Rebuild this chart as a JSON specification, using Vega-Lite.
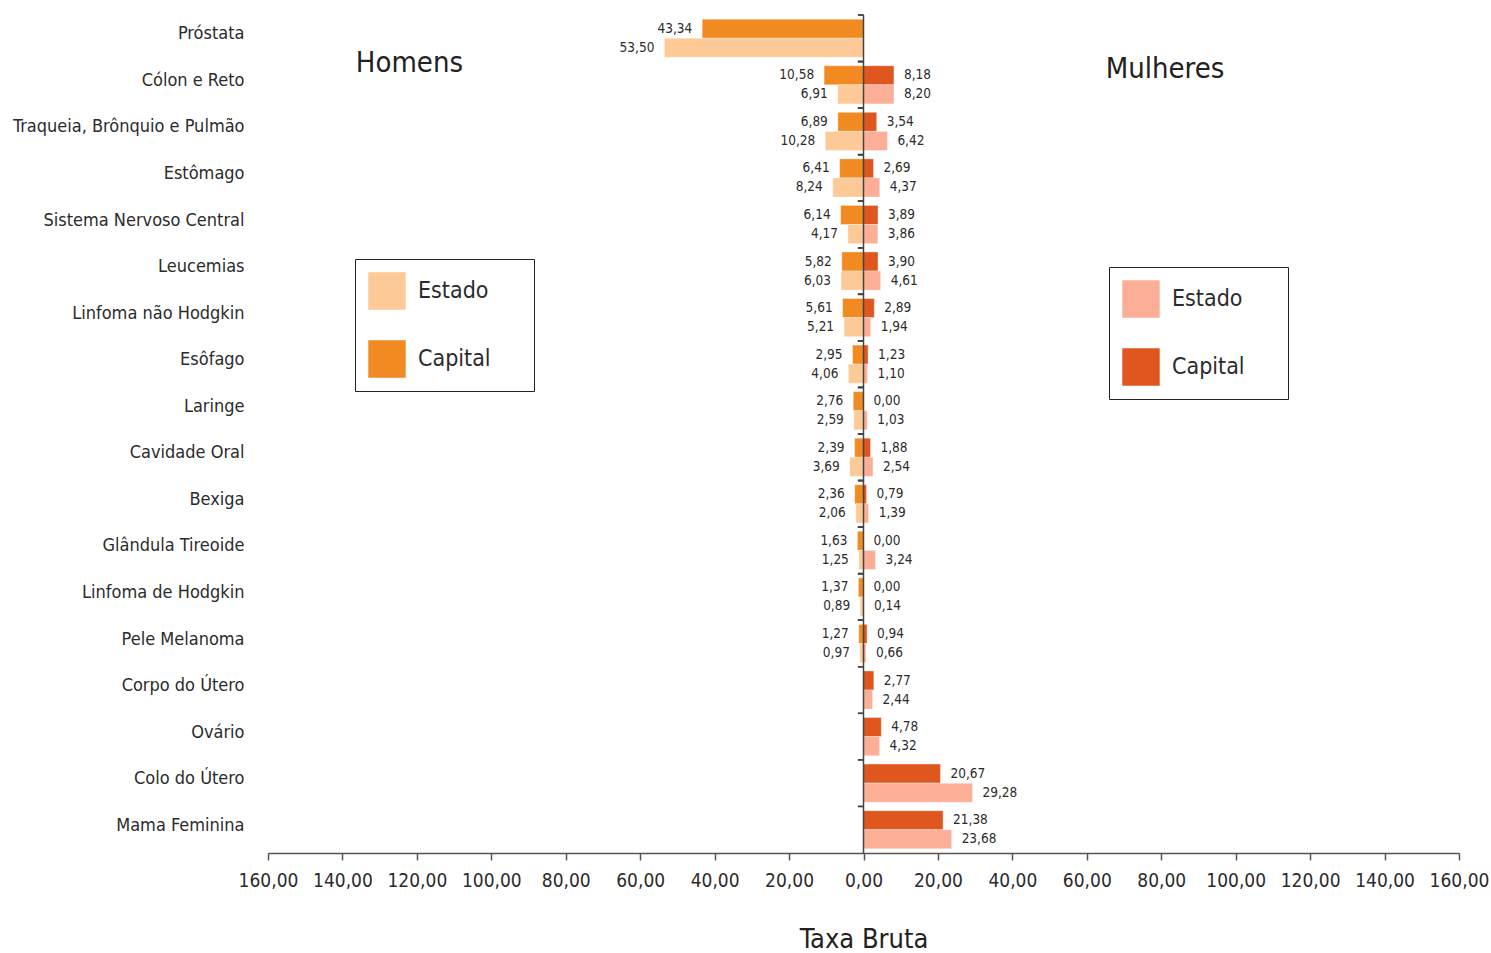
{
  "$schema": "https://vega.github.io/schema/vega-lite/v6.json",
  "width": 1191,
  "height": 838,
  "padding": {"left": 12, "top": 14, "right": 0, "bottom": 0},
  "background": "white",
  "config": {
    "view": {"stroke": null},
    "font": "DejaVu Sans Condensed, sans-serif"
  },
  "data": {
    "values": [
      {"cancer": "Próstata", "sexo": "Homens", "tipo": "Capital", "valor": -43.34},
      {"cancer": "Próstata", "sexo": "Homens", "tipo": "Estado", "valor": -53.50},
      {"cancer": "Cólon e Reto", "sexo": "Homens", "tipo": "Capital", "valor": -10.58},
      {"cancer": "Cólon e Reto", "sexo": "Homens", "tipo": "Estado", "valor": -6.91},
      {"cancer": "Cólon e Reto", "sexo": "Mulheres", "tipo": "Capital", "valor": 8.18},
      {"cancer": "Cólon e Reto", "sexo": "Mulheres", "tipo": "Estado", "valor": 8.20},
      {"cancer": "Traqueia, Brônquio e Pulmão", "sexo": "Homens", "tipo": "Capital", "valor": -6.89},
      {"cancer": "Traqueia, Brônquio e Pulmão", "sexo": "Homens", "tipo": "Estado", "valor": -10.28},
      {"cancer": "Traqueia, Brônquio e Pulmão", "sexo": "Mulheres", "tipo": "Capital", "valor": 3.54},
      {"cancer": "Traqueia, Brônquio e Pulmão", "sexo": "Mulheres", "tipo": "Estado", "valor": 6.42},
      {"cancer": "Estômago", "sexo": "Homens", "tipo": "Capital", "valor": -6.41},
      {"cancer": "Estômago", "sexo": "Homens", "tipo": "Estado", "valor": -8.24},
      {"cancer": "Estômago", "sexo": "Mulheres", "tipo": "Capital", "valor": 2.69},
      {"cancer": "Estômago", "sexo": "Mulheres", "tipo": "Estado", "valor": 4.37},
      {"cancer": "Sistema Nervoso Central", "sexo": "Homens", "tipo": "Capital", "valor": -6.14},
      {"cancer": "Sistema Nervoso Central", "sexo": "Homens", "tipo": "Estado", "valor": -4.17},
      {"cancer": "Sistema Nervoso Central", "sexo": "Mulheres", "tipo": "Capital", "valor": 3.89},
      {"cancer": "Sistema Nervoso Central", "sexo": "Mulheres", "tipo": "Estado", "valor": 3.86},
      {"cancer": "Leucemias", "sexo": "Homens", "tipo": "Capital", "valor": -5.82},
      {"cancer": "Leucemias", "sexo": "Homens", "tipo": "Estado", "valor": -6.03},
      {"cancer": "Leucemias", "sexo": "Mulheres", "tipo": "Capital", "valor": 3.90},
      {"cancer": "Leucemias", "sexo": "Mulheres", "tipo": "Estado", "valor": 4.61},
      {"cancer": "Linfoma não Hodgkin", "sexo": "Homens", "tipo": "Capital", "valor": -5.61},
      {"cancer": "Linfoma não Hodgkin", "sexo": "Homens", "tipo": "Estado", "valor": -5.21},
      {"cancer": "Linfoma não Hodgkin", "sexo": "Mulheres", "tipo": "Capital", "valor": 2.89},
      {"cancer": "Linfoma não Hodgkin", "sexo": "Mulheres", "tipo": "Estado", "valor": 1.94},
      {"cancer": "Esôfago", "sexo": "Homens", "tipo": "Capital", "valor": -2.95},
      {"cancer": "Esôfago", "sexo": "Homens", "tipo": "Estado", "valor": -4.06},
      {"cancer": "Esôfago", "sexo": "Mulheres", "tipo": "Capital", "valor": 1.23},
      {"cancer": "Esôfago", "sexo": "Mulheres", "tipo": "Estado", "valor": 1.10},
      {"cancer": "Laringe", "sexo": "Homens", "tipo": "Capital", "valor": -2.76},
      {"cancer": "Laringe", "sexo": "Homens", "tipo": "Estado", "valor": -2.59},
      {"cancer": "Laringe", "sexo": "Mulheres", "tipo": "Capital", "valor": 0.00},
      {"cancer": "Laringe", "sexo": "Mulheres", "tipo": "Estado", "valor": 1.03},
      {"cancer": "Cavidade Oral", "sexo": "Homens", "tipo": "Capital", "valor": -2.39},
      {"cancer": "Cavidade Oral", "sexo": "Homens", "tipo": "Estado", "valor": -3.69},
      {"cancer": "Cavidade Oral", "sexo": "Mulheres", "tipo": "Capital", "valor": 1.88},
      {"cancer": "Cavidade Oral", "sexo": "Mulheres", "tipo": "Estado", "valor": 2.54},
      {"cancer": "Bexiga", "sexo": "Homens", "tipo": "Capital", "valor": -2.36},
      {"cancer": "Bexiga", "sexo": "Homens", "tipo": "Estado", "valor": -2.06},
      {"cancer": "Bexiga", "sexo": "Mulheres", "tipo": "Capital", "valor": 0.79},
      {"cancer": "Bexiga", "sexo": "Mulheres", "tipo": "Estado", "valor": 1.39},
      {"cancer": "Glândula Tireoide", "sexo": "Homens", "tipo": "Capital", "valor": -1.63},
      {"cancer": "Glândula Tireoide", "sexo": "Homens", "tipo": "Estado", "valor": -1.25},
      {"cancer": "Glândula Tireoide", "sexo": "Mulheres", "tipo": "Capital", "valor": 0.00},
      {"cancer": "Glândula Tireoide", "sexo": "Mulheres", "tipo": "Estado", "valor": 3.24},
      {"cancer": "Linfoma de Hodgkin", "sexo": "Homens", "tipo": "Capital", "valor": -1.37},
      {"cancer": "Linfoma de Hodgkin", "sexo": "Homens", "tipo": "Estado", "valor": -0.89},
      {"cancer": "Linfoma de Hodgkin", "sexo": "Mulheres", "tipo": "Capital", "valor": 0.00},
      {"cancer": "Linfoma de Hodgkin", "sexo": "Mulheres", "tipo": "Estado", "valor": 0.14},
      {"cancer": "Pele Melanoma", "sexo": "Homens", "tipo": "Capital", "valor": -1.27},
      {"cancer": "Pele Melanoma", "sexo": "Homens", "tipo": "Estado", "valor": -0.97},
      {"cancer": "Pele Melanoma", "sexo": "Mulheres", "tipo": "Capital", "valor": 0.94},
      {"cancer": "Pele Melanoma", "sexo": "Mulheres", "tipo": "Estado", "valor": 0.66},
      {"cancer": "Corpo do Útero", "sexo": "Mulheres", "tipo": "Capital", "valor": 2.77},
      {"cancer": "Corpo do Útero", "sexo": "Mulheres", "tipo": "Estado", "valor": 2.44},
      {"cancer": "Ovário", "sexo": "Mulheres", "tipo": "Capital", "valor": 4.78},
      {"cancer": "Ovário", "sexo": "Mulheres", "tipo": "Estado", "valor": 4.32},
      {"cancer": "Colo do Útero", "sexo": "Mulheres", "tipo": "Capital", "valor": 20.67},
      {"cancer": "Colo do Útero", "sexo": "Mulheres", "tipo": "Estado", "valor": 29.28},
      {"cancer": "Mama Feminina", "sexo": "Mulheres", "tipo": "Capital", "valor": 21.38},
      {"cancer": "Mama Feminina", "sexo": "Mulheres", "tipo": "Estado", "valor": 23.68}
    ]
  },
  "encoding": {
    "y": {
      "field": "cancer",
      "type": "nominal",
      "sort": ["Próstata", "Cólon e Reto", "Traqueia, Brônquio e Pulmão", "Estômago", "Sistema Nervoso Central", "Leucemias", "Linfoma não Hodgkin", "Esôfago", "Laringe", "Cavidade Oral", "Bexiga", "Glândula Tireoide", "Linfoma de Hodgkin", "Pele Melanoma", "Corpo do Útero", "Ovário", "Colo do Útero", "Mama Feminina"],
      "scale": {"paddingInner": 0.18, "paddingOuter": 0.09},
      "axis": {"title": null, "domain": false, "ticks": false, "labelFontSize": 18, "labelColor": "#2b2b2b", "labelPadding": 24, "labelLimit": 400, "labelOffset": -4}
    }
  },
  "layer": [
    {
      "transform": [{"filter": "datum.sexo == 'Homens'"}],
      "mark": {"type": "bar", "stroke": "white", "strokeOpacity": 0.35, "strokeWidth": 1},
      "encoding": {
        "x": {
          "field": "valor", "type": "quantitative",
          "scale": {"domain": [-160, 160], "nice": false},
          "axis": {
            "values": [-160, -140, -120, -100, -80, -60, -40, -20, 0, 20, 40, 60, 80, 100, 120, 140, 160],
            "labelExpr": "replace(format(abs(datum.value), '.2f'), '.', ',')",
            "labelOverlap": false, "labelFlush": false,
            "grid": false, "tickSize": 7, "tickColor": "#555", "tickWidth": 1.5, "domainColor": "#555", "domainWidth": 1.5,
            "labelFontSize": 19, "labelColor": "#2b2b2b", "labelPadding": 11,
            "title": "Taxa Bruta", "titleFontSize": 27, "titleFontWeight": "normal", "titleColor": "#222", "titlePadding": 36
          }
        },
        "yOffset": {"field": "tipo", "type": "nominal", "sort": ["Capital", "Estado"], "scale": {"domain": ["Capital", "Estado"], "paddingInner": 0, "paddingOuter": 0}},
        "color": {
          "field": "tipo", "type": "nominal", "sort": ["Estado", "Capital"],
          "scale": {"range": ["#FDC996", "#F28A22"]},
          "legend": {
            "orient": "none", "legendX": 87, "legendY": 244, "title": null,
            "symbolType": "square", "symbolSize": 1400, "symbolStrokeWidth": 0, "symbolOpacity": 1,
            "labelFontSize": 23, "labelColor": "#2b2b2b", "labelOffset": 12, "rowPadding": 30, "padding": 13,
            "strokeColor": "#222", "fillColor": "white",
            "labelExpr": "datum.label + '\u2800\u2800'"
          }
        }
      }
    },
    {
      "transform": [{"filter": "datum.sexo == 'Mulheres'"}],
      "mark": {"type": "bar", "stroke": "white", "strokeOpacity": 0.35, "strokeWidth": 1},
      "encoding": {
        "x": {"field": "valor", "type": "quantitative"},
        "yOffset": {"field": "tipo", "type": "nominal", "sort": ["Capital", "Estado"]},
        "fill": {
          "field": "tipo", "type": "nominal", "sort": ["Estado", "Capital"],
          "scale": {"range": ["#FCAE96", "#E0561F"]},
          "legend": {
            "orient": "none", "legendX": 841, "legendY": 252, "title": null,
            "symbolType": "square", "symbolSize": 1400, "symbolStrokeWidth": 0, "symbolOpacity": 1,
            "labelFontSize": 23, "labelColor": "#2b2b2b", "labelOffset": 12, "rowPadding": 30, "padding": 13,
            "strokeColor": "#222", "fillColor": "white",
            "labelExpr": "datum.label + '\u2800\u2800'"
          }
        }
      }
    },
    {
      "transform": [{"filter": "datum.sexo == 'Homens'"}],
      "mark": {"type": "text", "align": "right", "baseline": "middle", "dx": -10, "fontSize": 13.5, "color": "#2b2b2b",
        "text": {"expr": "replace(format(abs(datum.valor), '.2f'), '.', ',')"}},
      "encoding": {
        "x": {"field": "valor", "type": "quantitative"},
        "yOffset": {"field": "tipo", "type": "nominal", "sort": ["Capital", "Estado"]}
      }
    },
    {
      "transform": [{"filter": "datum.sexo == 'Mulheres'"}],
      "mark": {"type": "text", "align": "left", "baseline": "middle", "dx": 10, "fontSize": 13.5, "color": "#2b2b2b",
        "text": {"expr": "replace(format(abs(datum.valor), '.2f'), '.', ',')"}},
      "encoding": {
        "x": {"field": "valor", "type": "quantitative"},
        "yOffset": {"field": "tipo", "type": "nominal", "sort": ["Capital", "Estado"]}
      }
    },
    {
      "mark": {"type": "rule", "color": "#444", "strokeWidth": 1.5},
      "encoding": {
        "x": {"datum": -1.5},
        "x2": {"datum": 0},
        "y": {"field": "cancer", "type": "nominal", "bandPosition": -0.11}
      }
    },
    {
      "data": {"values": [{}]},
      "mark": {"type": "rule", "color": "#444", "strokeWidth": 1.5},
      "encoding": {"x": {"datum": 0}, "y": null}
    },
    {
      "data": {"values": [{}]},
      "mark": {"type": "text", "text": "Homens", "fontSize": 29, "dy": -22, "color": "#222"},
      "encoding": {"x": {"datum": -122}, "y": {"datum": "Cólon e Reto", "type": "nominal"}}
    },
    {
      "data": {"values": [{}]},
      "mark": {"type": "text", "text": "Mulheres", "fontSize": 29, "dy": -16, "color": "#222"},
      "encoding": {"x": {"datum": 81}, "y": {"datum": "Cólon e Reto", "type": "nominal"}}
    }
  ]
}
